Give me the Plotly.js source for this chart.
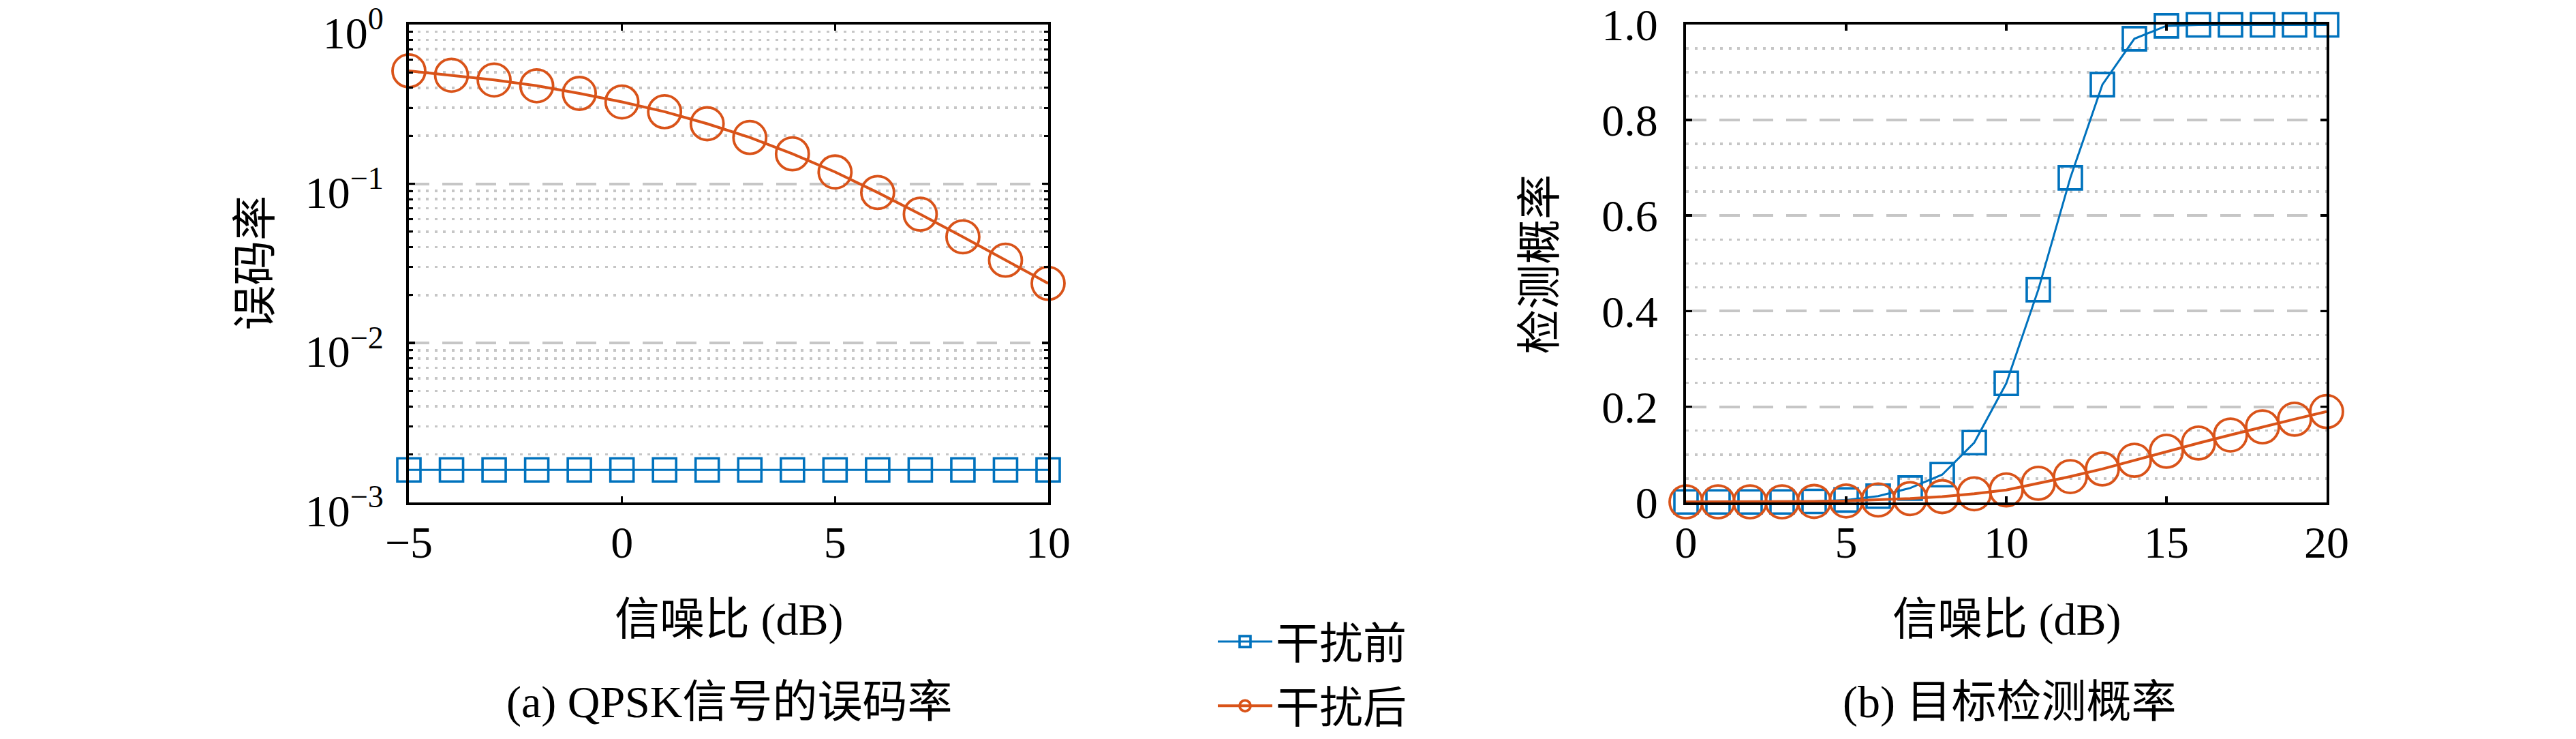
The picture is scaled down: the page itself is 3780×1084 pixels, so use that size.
<!DOCTYPE html>
<html>
<head>
<meta charset="utf-8">
<script src="https://cdn.plot.ly/plotly-3.0.1.min.js"></script>
<style>
  html, body { margin: 0; padding: 0; background: #fff; }
  #chart { width: 3780px; height: 1084px; }
</style>
</head>
<body>
<div id="chart"></div>
<script>
// data
const snrA = [-5, -4, -3, -2, -1, 0, 1, 2, 3, 4, 5, 6, 7, 8, 9, 10];
const berBefore = [0.0016, 0.0016, 0.0016, 0.0016, 0.0016, 0.0016, 0.0016, 0.0016,
                   0.0016, 0.0016, 0.0016, 0.0016, 0.0016, 0.0016, 0.0016, 0.0016];
const berAfter = [0.511, 0.480, 0.448, 0.412, 0.369, 0.326, 0.283, 0.238,
                  0.195, 0.154, 0.1185, 0.0881, 0.0644, 0.0464, 0.0331, 0.0237];

const snrB = [0, 1, 2, 3, 4, 5, 6, 7, 8, 9, 10, 11, 12, 13, 14, 15, 16, 17, 18, 19, 20];
const pdBefore = [0.001, 0.001, 0.001, 0.001, 0.002, 0.005, 0.013, 0.03, 0.058, 0.125, 0.249,
                  0.445, 0.679, 0.874, 0.970, 0.997, 0.999, 0.999, 0.999, 0.999, 0.999];
const pdAfter = [0.001, 0.001, 0.001, 0.001, 0.002, 0.003, 0.005, 0.008, 0.012, 0.018, 0.026,
                 0.040, 0.054, 0.070, 0.088, 0.107, 0.124, 0.141, 0.158, 0.174, 0.190];

const names = ["干扰前", "干扰后"];
const yTicksA = [0.001, 0.01, 0.1, 1];
const yTextA = ["10<sup>−3</sup>", "10<sup>−2</sup>", "10<sup>−1</sup>", "10<sup>0</sup>"];
const yTicksB = [0, 0.2, 0.4, 0.6, 0.8, 1.0];
const yTextB = ["0", "0.2", "0.4", "0.6", "0.8", "1.0"];

// minor grid positions (skip the major ones so the dashes stay clean)
const minorA = [];
[0.001, 0.01, 0.1].forEach(d => { for (let k = 2; k <= 9; k++) minorA.push(k * d); });
const minorB = [];
for (let k = 1; k < 20; k++) if (k % 4 !== 0) minorB.push(k * 0.05);

const blue = "#0072BD";
const orange = "#D95319";
const W = 3780, H = 1084;
const fx = p => p / W;
const fy = p => 1 - p / H;

const serif = "Liberation Serif, Noto Sans CJK SC, serif";

function blueTrace(x, y, xa, ya, show) {
  return {
    x: x, y: y, xaxis: xa, yaxis: ya, name: names[0], legendgroup: "a",
    showlegend: show, mode: "lines+markers", type: "scatter", cliponaxis: false,
    line: {color: blue, width: 3},
    marker: {symbol: "square-open", size: 34, color: blue, line: {width: 3.6, color: blue}}
  };
}
function orangeTrace(x, y, xa, ya, show) {
  return {
    x: x, y: y, xaxis: xa, yaxis: ya, name: names[1], legendgroup: "b",
    showlegend: show, mode: "lines+markers", type: "scatter", cliponaxis: false,
    line: {color: orange, width: 4},
    marker: {symbol: "circle-open", size: 48, color: orange, line: {width: 3.8, color: orange}}
  };
}

const data = [
  blueTrace(snrA, berBefore, "x", "y", true),
  orangeTrace(snrA, berAfter, "x", "y", true),
  blueTrace(snrB, pdBefore, "x2", "y2", false),
  orangeTrace(snrB, pdAfter, "x2", "y2", false)
];

const axisBase = {
  showline: true, linecolor: "#000", linewidth: 4, mirror: "ticks",
  ticks: "inside", ticklen: 9, tickwidth: 3.5, tickcolor: "#000",
  zeroline: false, ticklabeloverflow: "allow",
  tickfont: {family: serif, size: 66, color: "#000"}
};

const minorDot = {
  tickmode: "array", showgrid: true, gridcolor: "#c6c6c6", gridwidth: 3.5, griddash: "4px,8.5px"
};

const layout = {
  width: W, height: H,
  margin: {l: 0, r: 0, t: 0, b: 0},
  paper_bgcolor: "#fff", plot_bgcolor: "#fff",
  showlegend: true,
  legend: {
    x: fx(1782), y: fy(898), xanchor: "left", yanchor: "top",
    font: {family: serif, size: 64, color: "#000"},
    tracegroupgap: 8, bgcolor: "rgba(0,0,0,0)", itemwidth: 80
  },
  xaxis: Object.assign({}, axisBase, {
    domain: [fx(600), fx(1538)], anchor: "y", range: [-5, 10],
    tickvals: [-5, 0, 5, 10], showgrid: false, ticklabelstandoff: -2
  }),
  yaxis: Object.assign({}, axisBase, {
    domain: [fy(741), fy(36)], anchor: "x", type: "log", range: [-3, 0],
    tickvals: yTicksA, ticktext: yTextA,
    showgrid: true, gridcolor: "#c6c6c6", gridwidth: 4, griddash: "30px,19px",
    minor: Object.assign({tickvals: minorA, ticks: "inside", ticklen: 6, tickwidth: 3, tickcolor: "#000"}, minorDot),
    ticklabelstandoff: 20, ticklabelshift: 12
  }),
  xaxis2: Object.assign({}, axisBase, {
    domain: [fx(2474), fx(3414)], anchor: "y2", range: [0, 20],
    tickvals: [0, 5, 10, 15, 20], showgrid: false, ticklabelstandoff: -2
  }),
  yaxis2: Object.assign({}, axisBase, {
    domain: [fy(741), fy(36)], anchor: "x2", range: [0, 1],
    tickvals: yTicksB, ticktext: yTextB,
    showgrid: true, gridcolor: "#c6c6c6", gridwidth: 4, griddash: "30px,19px",
    minor: Object.assign({tickvals: minorB, ticks: ""}, minorDot),
    ticklabelstandoff: 24
  }),
  annotations: [
    {text: "误码率", x: fx(375), y: fy(388), textangle: -90},
    {text: "检测概率", x: fx(2260), y: fy(390), textangle: -90},
    {text: "信噪比 (dB)", x: fx(1069), y: fy(914)},
    {text: "信噪比 (dB)", x: fx(2944), y: fy(914)},
    {text: "(a) QPSK信号的误码率", x: fx(1070), y: fy(1036)},
    {text: "(b) 目标检测概率", x: fx(2948), y: fy(1036)}
  ].map(a => Object.assign({
    xref: "paper", yref: "paper", showarrow: false,
    xanchor: "center", yanchor: "middle",
    font: {family: serif, size: 66, color: "#000"}
  }, a))
};

Plotly.newPlot("chart", data, layout, {staticPlot: true});
</script>
</body>
</html>
